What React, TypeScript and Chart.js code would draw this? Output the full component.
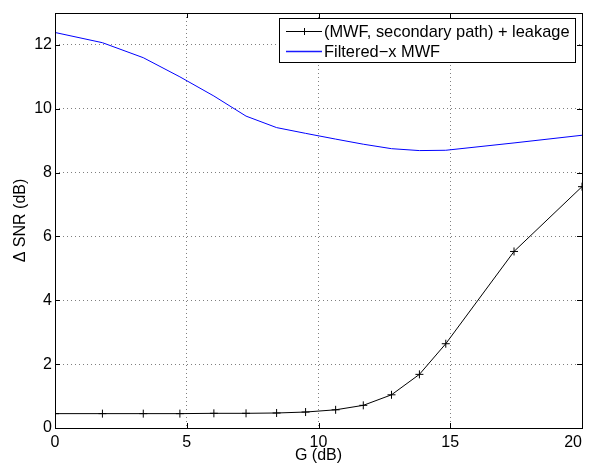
import React, { useEffect, useRef } from "react";
import { Chart, registerables } from "chart.js";

Chart.register(...registerables);

const G = [0, 1.8, 3.35, 4.74, 6.03, 7.25, 8.41, 9.51, 10.65, 11.7, 12.77, 13.83, 14.83, 17.42, 20];
const leakage = [0.45, 0.45, 0.45, 0.45, 0.46, 0.46, 0.47, 0.5, 0.57, 0.71, 1.04, 1.68, 2.64, 5.53, 7.56];
const filteredX = [12.39, 12.07, 11.6, 11.0, 10.4, 9.77, 9.41, 9.23, 9.05, 8.89, 8.75, 8.69, 8.7, 8.93, 9.17];
const xTicks = [0, 5, 10, 15, 20];
const seriesNames = ["(MWF, secondary path) + leakage", "Filtered\u2212x MWF"];
const xTitle = "G (dB)";
const yTitle = "\u0394 SNR (dB)";

const FONT = "'Liberation Sans', Arial, Helvetica, sans-serif";

const framePlugin = {
  id: "matlabFrame",
  afterDraw(chart: any) {
    const { ctx, chartArea: a, scales } = chart;
    ctx.save();
    ctx.strokeStyle = "#000";
    ctx.lineWidth = 1;
    const tl = 5;
    ctx.beginPath();
    xTicks.forEach((v) => {
      const px = Math.round(scales.x.getPixelForValue(v)) + 0.5;
      ctx.moveTo(px, a.bottom);
      ctx.lineTo(px, a.bottom - tl);
      ctx.moveTo(px, a.top);
      ctx.lineTo(px, a.top + tl);
    });
    scales.y.ticks.forEach((t: any) => {
      const py = Math.round(scales.y.getPixelForValue(t.value)) + 0.5;
      ctx.moveTo(a.left, py);
      ctx.lineTo(a.left + tl, py);
      ctx.moveTo(a.right, py);
      ctx.lineTo(a.right - tl, py);
    });
    ctx.stroke();
    ctx.strokeRect(Math.round(a.left) + 0.5, Math.round(a.top) + 0.5, Math.round(a.right - a.left), Math.round(a.bottom - a.top));

    ctx.fillStyle = "#000";
    ctx.font = `16px ${FONT}`;
    ctx.textBaseline = "alphabetic";
    ctx.textAlign = "center";
    xTicks.forEach((v) => {
      const label = String(v);
      const w = ctx.measureText(label).width;
      let cx = scales.x.getPixelForValue(v);
      if (cx + w / 2 > 582) cx = 582 - w / 2;
      ctx.fillText(label, cx, 447);
    });

    ctx.fillText(xTitle, (a.left + a.right) / 2, 460);
    ctx.save();
    ctx.translate(25, (a.top + a.bottom) / 2);
    ctx.rotate(-Math.PI / 2);
    ctx.fillText(yTitle, 0, 0);
    ctx.restore();

    const lx = 279.5, ly = 18.5, lw = 296, lh = 44;
    ctx.fillStyle = "#fff";
    ctx.fillRect(lx, ly, lw, lh);
    ctx.strokeStyle = "#000";
    ctx.strokeRect(lx, ly, lw, lh);
    const rows = [31.5, 51.5];
    const colors = ["#000000", "#1a1aff"];
    ctx.font = `16.4px ${FONT}`;
    rows.forEach((ry, i) => {
      ctx.strokeStyle = colors[i];
      ctx.lineWidth = i === 0 ? 1 : 1.3;
      ctx.beginPath();
      ctx.moveTo(286, ry);
      ctx.lineTo(322, ry);
      if (i === 0) {
        ctx.moveTo(304.5, ry - 3.5);
        ctx.lineTo(304.5, ry + 3.5);
      }
      ctx.stroke();
      ctx.fillStyle = "#000";
      ctx.textAlign = "left";
      ctx.textBaseline = "middle";
      ctx.fillText(seriesNames[i], 324, ry + 1);
    });
    ctx.restore();
  },
};

export default function App() {
  const ref = useRef<HTMLCanvasElement>(null);
  useEffect(() => {
    document.body.style.margin = "0";
    const chart = new Chart(ref.current!, {
      type: "line",
      data: {
        datasets: [
          {
            label: seriesNames[0],
            data: G.map((g, i) => ({ x: g, y: leakage[i] })),
            borderColor: "#000",
            borderWidth: 1,
            pointStyle: "cross",
            pointRadius: 4,
            pointBorderColor: "#000",
            pointBorderWidth: 1,
            tension: 0,
          },
          {
            label: seriesNames[1],
            data: G.map((g, i) => ({ x: g, y: filteredX[i] })),
            borderColor: "#0000ff",
            borderWidth: 1,
            pointRadius: 0,
            tension: 0,
          },
        ],
      },
      options: {
        animation: false,
        responsive: false,
        layout: { padding: { left: 0, right: 9, top: 13, bottom: 0 } },
        plugins: { legend: { display: false }, tooltip: { enabled: false } },
        scales: {
          x: {
            type: "linear",
            min: 0,
            max: 20,
            ticks: { stepSize: 5, display: false },
            grid: { color: "rgba(0,0,0,0.5)", lineWidth: 1, drawTicks: false },
            border: { display: false, dash: [1, 3] },
            afterFit: (s: any) => { s.height = 38; },
          },
          y: {
            type: "linear",
            min: 0,
            max: 13,
            ticks: { stepSize: 2, color: "#000", font: { family: FONT, size: 16 }, padding: 3 },
            afterBuildTicks: (s: any) => { s.ticks = s.ticks.filter((t: any) => t.value % 2 === 0); },
            grid: { color: "rgba(0,0,0,0.5)", lineWidth: 1, drawTicks: false },
            border: { display: false, dash: [1, 3] },
            afterFit: (s: any) => { s.width = 55; },
          },
        },
      },
      plugins: [framePlugin],
    } as any);
    return () => chart.destroy();
  }, []);
  return <canvas ref={ref} width={591} height={466} style={{ display: "block" }} />;
}
